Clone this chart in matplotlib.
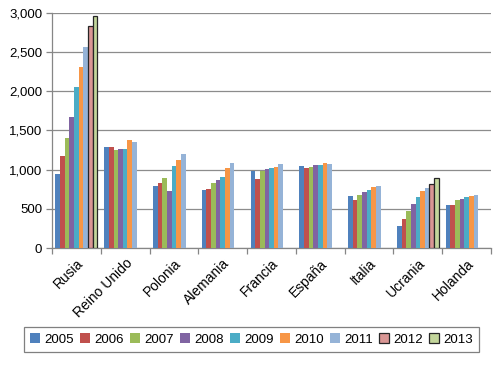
import numpy as np
import matplotlib
matplotlib.use("Agg")
import matplotlib.pyplot as plt
from matplotlib.ticker import FuncFormatter, FixedLocator

plt.rcParams['font.family'] = ['Liberation Sans', 'DejaVu Sans']

countries = ["Rusia", "Reino Unido", "Polonia", "Alemania", "Francia",
             "España", "Italia", "Ucrania", "Holanda"]
years = ["2005", "2006", "2007", "2008", "2009", "2010", "2011", "2012", "2013"]

nan = np.nan
v2005 = [949, 1285, 796, 736, 986, 1045, 658, 285, 544]
v2006 = [1179, 1285, 826, 749, 879, 1024, 616, 374, 544]
v2007 = [1409, 1251, 889, 826, 986, 1032, 671, 467, 612]
v2008 = [1677, 1264, 728, 864, 1003, 1054, 709, 561, 624]
v2009 = [2060, 1264, 1051, 911, 1024, 1066, 739, 650, 650]
v2010 = [2311, 1379, 1119, 1017, 1037, 1083, 777, 726, 663]
v2011 = [2570, 1353, 1200, 1085, 1075, 1075, 786, 765, 680]
v2012 = [2826, nan, nan, nan, nan, nan, nan, 820, nan]
v2013 = [2957, nan, nan, nan, nan, nan, nan, 896, nan]
series = [v2005, v2006, v2007, v2008, v2009, v2010, v2011, v2012, v2013]

colors = ["#4F81BD", "#C0504D", "#9BBB59", "#8064A2", "#4BACC6",
          "#F79646", "#95B3D7", "#D99694", "#C3D69B"]
edges = [None] * 7 + ["#262626", "#262626"]

fig = plt.figure(figsize=(5.0, 3.67), dpi=100)
ax = fig.add_axes([0.104, 0.324, 0.878, 0.641])

n = len(years)
w = 1 / 10.5
x = np.arange(len(countries))
for j, (vals, c, e) in enumerate(zip(series, colors, edges)):
    kw = {}
    if e is not None:
        kw = dict(edgecolor=e, linewidth=0.9)
    ax.bar(x + (j - (n - 1) / 2) * w, vals, width=w, color=c, label=years[j],
           zorder=3, **kw)

ax.set_xlim(-0.5, len(countries) - 0.5)
ax.set_ylim(0, 3000)
ax.set_yticks(np.arange(0, 3001, 500))
ax.yaxis.set_major_formatter(FuncFormatter(lambda v, p: f"{int(v):,}"))
ax.grid(axis='y', color='#8C8C8C', linewidth=0.9, zorder=0)
for s in ['top', 'right']:
    ax.spines[s].set_visible(False)
for s in ['left', 'bottom']:
    ax.spines[s].set_color('#868686')
    ax.spines[s].set_linewidth(0.9)

ax.set_xticks(x)
ax.set_xticklabels(countries, rotation=45, ha='right', rotation_mode='anchor',
                   fontsize=10)
ax.tick_params(axis='x', which='major', length=0, pad=6)
ax.xaxis.set_minor_locator(FixedLocator(np.arange(-0.5, len(countries), 1.0)))
ax.tick_params(axis='x', which='minor', length=4, color='#868686', width=0.9)
ax.tick_params(axis='y', length=4, color='#868686', width=0.9, labelsize=9.5,
               pad=3)

leg = fig.legend(loc='center', bbox_to_anchor=(0.503, 0.075), ncol=9,
                 fontsize=9.5, frameon=True, fancybox=False, edgecolor='#606060',
                 handlelength=0.75, handleheight=0.75, handletextpad=0.3,
                 columnspacing=0.5, borderpad=0.45)
leg.get_frame().set_linewidth(0.9)

fig.savefig("out.png", dpi=100)
